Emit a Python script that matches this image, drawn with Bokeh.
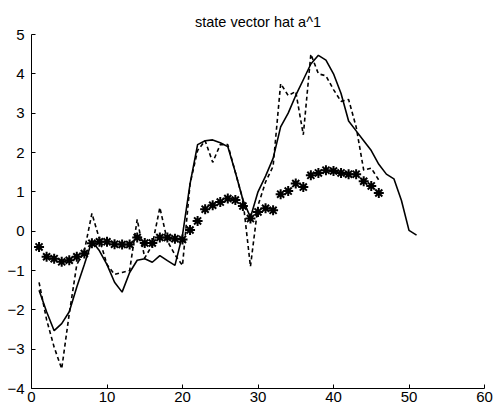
from bokeh.plotting import figure
from bokeh.models import Range1d, FixedTicker
from bokeh.embed import file_html
from bokeh.resources import INLINE

solid_y = [-1.5, -2.05, -2.53, -2.35, -2.05, -1.42, -0.85, -0.25, -0.5, -0.85,
           -1.3, -1.55, -1.05, -0.74, -0.7, -0.79, -0.62, -0.75, -0.87, -0.1,
           1.2, 2.2, 2.3, 2.32, 2.25, 2.15, 1.5, 0.8, 0.35, 1.0,
           1.4, 1.85, 2.65, 3.0, 3.45, 3.85, 4.25, 4.47, 4.35, 4.0,
           3.5, 2.8, 2.55, 2.3, 2.05, 1.7, 1.45, 1.33, 0.78, 0.02, -0.1]
dashed_y = [-1.3, -2.25, -2.95, -3.5, -2.1, -0.85, -0.5, 0.45, -0.2, -0.85,
            -1.1, -1.05, -1.0, 0.3, -0.68, -0.35, 0.6, -0.25, -0.6, -0.87,
            1.2, 2.05, 2.3, 1.75, 2.2, 2.2, 1.5, 0.8, -0.9, 0.65,
            1.25, 1.65, 3.75, 3.45, 3.55, 2.45, 4.5, 4.0, 3.95, 3.6,
            3.3, 3.35, 2.65, 1.55, 1.6, 1.3]
star_y = [-0.4, -0.65, -0.7, -0.78, -0.74, -0.65, -0.57, -0.31, -0.27, -0.27,
          -0.33, -0.34, -0.34, -0.16, -0.3, -0.3, -0.16, -0.16, -0.19, -0.21,
          0.03, 0.26, 0.56, 0.66, 0.74, 0.83, 0.79, 0.64, 0.32, 0.49,
          0.58, 0.53, 0.94, 1.02, 1.21, 1.12, 1.42, 1.48, 1.55, 1.53,
          1.48, 1.45, 1.45, 1.27, 1.15, 0.97]
solid_x = list(range(1, len(solid_y) + 1))
dashed_x = list(range(1, len(dashed_y) + 1))
star_x = list(range(1, len(star_y) + 1))

x_ticks = [0, 10, 20, 30, 40, 50, 60]
y_ticks = [-4, -3, -2, -1, 0, 1, 2, 3, 4, 5]

FONT = "Liberation Sans"

p = figure(width=496, height=412, output_backend="svg", toolbar_location=None,
           x_range=Range1d(0, 60), y_range=Range1d(-4, 5),
           min_border_left=31, min_border_right=12, min_border_top=34,
           min_border_bottom=24, title="state vector hat a^1")
p.outline_line_color = None
p.grid.visible = False
p.background_fill_color = "white"
p.border_fill_color = "white"

p.title.align = "center"
p.title.text_font = FONT
p.title.text_font_size = "14.5px"
p.title.text_font_style = "normal"
p.title.text_color = "black"
p.title.standoff = 10
p.title.offset = 0

for ax in (p.xaxis[0], p.yaxis[0]):
    ax.major_label_text_font = FONT
    ax.major_label_text_font_size = "15px"
    ax.major_label_text_color = "black"
    ax.axis_line_color = "black"
    ax.axis_line_width = 1
    ax.major_tick_in = 4
    ax.major_tick_out = 0
    ax.major_tick_line_color = "black"
    ax.minor_tick_line_color = None
p.xaxis[0].ticker = FixedTicker(ticks=x_ticks)
p.yaxis[0].ticker = FixedTicker(ticks=y_ticks)
p.xaxis[0].major_label_standoff = 3
p.yaxis[0].major_label_standoff = 7

p.line(solid_x, solid_y, line_color="black", line_width=1.6)
p.line(dashed_x, dashed_y, line_color="black", line_width=1.6, line_dash="4 3")
p.scatter(star_x, star_y, marker="asterisk", size=10, line_color="black",
          line_width=2)

open("out.html", "w").write(file_html(p, INLINE))
